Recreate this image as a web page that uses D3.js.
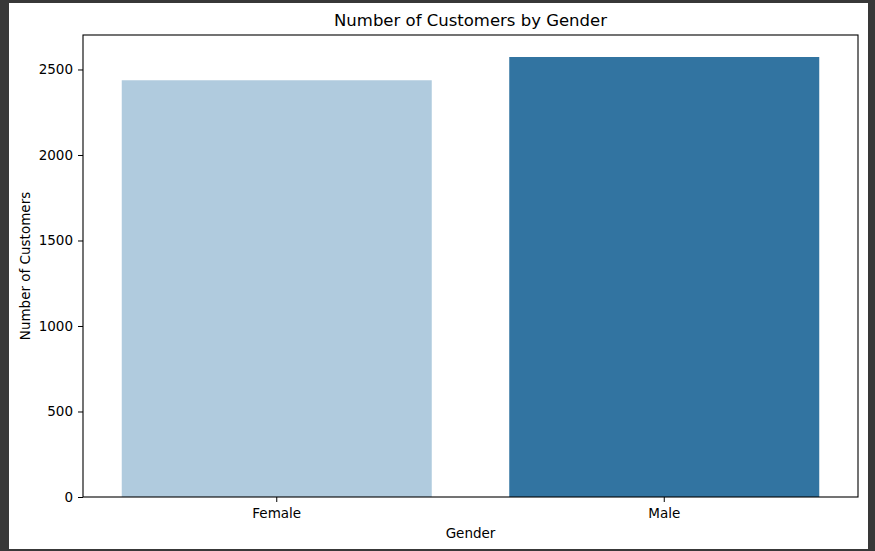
<!DOCTYPE html>
<html>
<head>
<meta charset="utf-8">
<script src="https://cdn.jsdelivr.net/npm/d3@7"></script>
<style>
  html, body { margin: 0; padding: 0; background: #383838; }
  svg { display: block; }
  text { font-family: "DejaVu Sans", sans-serif; fill: #000; }
</style>
</head>
<body>
<svg id="chart" width="875" height="551"></svg>
<script>
const categories = ["Female", "Male"];
const customers = [2437, 2573];
const barColors = ["#b0cbde", "#3274a1"];
const yTicks = [0, 500, 1000, 1500, 2000, 2500];
const chartTitle = "Number of Customers by Gender";
const xLabel = "Gender";
const yLabel = "Number of Customers";

const svg = d3.select("#chart");
// white figure area inside dark frame
svg.append("rect").attr("x", 9).attr("y", 3).attr("width", 859).attr("height", 546).attr("fill", "#ffffff");

const m = { left: 83, top: 35, right: 858, bottom: 497 };

const x = d3.scaleBand().domain(categories).range([m.left, m.right]).paddingInner(0.2).paddingOuter(0.1);
const yMax = d3.max(customers) * 1.05;
const y = d3.scaleLinear().domain([0, yMax]).range([m.bottom, m.top]);

svg.append("g").selectAll("rect").data(categories).join("rect")
  .attr("x", d => x(d))
  .attr("width", x.bandwidth())
  .attr("y", (d, i) => y(customers[i]))
  .attr("height", (d, i) => y(0) - y(customers[i]))
  .attr("fill", (d, i) => barColors[i]);

// axes
const yAxis = svg.append("g").attr("transform", `translate(${m.left},0)`)
  .call(d3.axisLeft(y).tickValues(yTicks).tickSize(5).tickPadding(5).tickFormat(d3.format("d")));
const xAxis = svg.append("g").attr("transform", `translate(0,${m.bottom})`)
  .call(d3.axisBottom(x).tickSize(5).tickPadding(6));
[yAxis, xAxis].forEach(a => {
  a.select(".domain").remove();
  a.selectAll("text").style("font-size", "13.5px").style("font-family", "DejaVu Sans, sans-serif").attr("fill", "#000");
  a.selectAll("line").attr("stroke", "#000").attr("stroke-width", 1);
});

// frame
svg.append("rect").attr("x", m.left).attr("y", m.top)
  .attr("width", m.right - m.left).attr("height", m.bottom - m.top)
  .attr("fill", "none").attr("stroke", "#000").attr("stroke-width", 1.1);

// title & labels
svg.append("text").attr("x", (m.left + m.right) / 2).attr("y", 26)
  .attr("text-anchor", "middle").style("font-size", "16.5px").text(chartTitle);
svg.append("text").attr("x", (m.left + m.right) / 2).attr("y", 538)
  .attr("text-anchor", "middle").style("font-size", "13.5px").text(xLabel);
svg.append("text").attr("transform", `translate(30,${(m.top + m.bottom) / 2}) rotate(-90)`)
  .attr("text-anchor", "middle").style("font-size", "13.5px").text(yLabel);
</script>
</body>
</html>
